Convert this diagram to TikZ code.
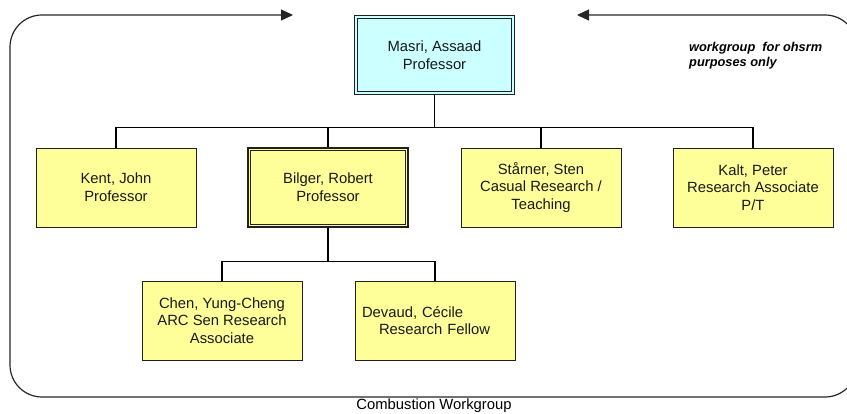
\documentclass[tikz,border=0pt]{standalone}
\usepackage{fontspec}
\setmainfont{Liberation Sans}
\usetikzlibrary{arrows.meta}
\definecolor{boxyellow}{HTML}{FFFF99}
\definecolor{boxcyan}{HTML}{CCFFFF}
\definecolor{edgegray}{HTML}{202020}
\begin{document}
\begin{tikzpicture}[x=1pt,y=-1pt,
  orgbox/.style={draw=edgegray, line width=0.9pt, fill=boxyellow,
    minimum width=160pt, minimum height=79pt, inner sep=0pt, align=center,
    font=\fontsize{14.8}{17.6}\selectfont, text=black!90},
  headbox/.style={orgbox, fill=boxcyan, line width=1.3pt},
  leadbox/.style={orgbox, line width=1.1pt},
  innerline/.style={draw=edgegray, line width=0.8pt},
  link/.style={draw=black, line width=1.2pt},
  frame/.style={draw=black!85, line width=1.2pt, rounded corners=32pt,
    {Triangle[length=12pt,width=11pt]}-{Triangle[length=12pt,width=11pt]}}
]
\useasboundingbox (0,0) rectangle (847,414);
\clip (0,0) rectangle (847,414);

% outer workgroup frame, open at the top around the head of the group
\draw[frame] (293,15) -- (10,15) -- (10,397) -- (857,397) -- (857,15) -- (577,15);

% people
\node[headbox] (masri)  at (434.5,55)   {Masri, Assaad\\Professor};
\node[orgbox]  (kent)   at (116,187.5)  {Kent, John\\Professor};
\node[leadbox] (bilger) at (328,187.5)  {Bilger, Robert\\Professor};
\node[orgbox]  (starner) at (541,187.5) {Stårner, Sten\\Casual Research /\\Teaching};
\node[orgbox]  (kalt)   at (753,187.5)  {Kalt, Peter\\Research Associate\\P/T};
\node[orgbox]  (chen)   at (222,320.5)  {Chen, Yung-Cheng\\ARC Sen Research\\Associate};
\node[orgbox, text width=146pt, inner xsep=7pt, align=left] (devaud) at (435,320.5)
  {Devaud, Cécile\\\hspace*{17pt}Research Fellow};

% second rule of the double borders
\draw[innerline] ([shift={(3.5,3.5)}]masri.north west) rectangle ([shift={(-3.5,-3.5)}]masri.south east);
\draw[innerline] ([shift={(3.2,3.2)}]bilger.north west) rectangle ([shift={(-3.2,-3.2)}]bilger.south east);

% reporting lines
\draw[link] (masri.south) -- ++(0,32) -| (kent.north);
\draw[link] (masri.south) -- ++(0,32) -| (bilger.north);
\draw[link] (masri.south) -- ++(0,32) -| (starner.north);
\draw[link] (masri.south) -- ++(0,32) -| (kalt.north);
\draw[link] (bilger.south) -- ++(0,34) -| (chen.north);
\draw[link] (bilger.south) -- ++(0,34) -| (devaud.north);

% notes
\node[anchor=west, align=left, inner sep=0pt,
  font=\fontsize{12.8}{15}\selectfont\bfseries\itshape] (note) at (689,55.5)
  {workgroup\ \ for ohsrm\\purposes only};
\node[font=\fontsize{14.8}{17}\selectfont, inner sep=0pt] (caption) at (434,406)
  {Combustion Workgroup};
\end{tikzpicture}
\end{document}
